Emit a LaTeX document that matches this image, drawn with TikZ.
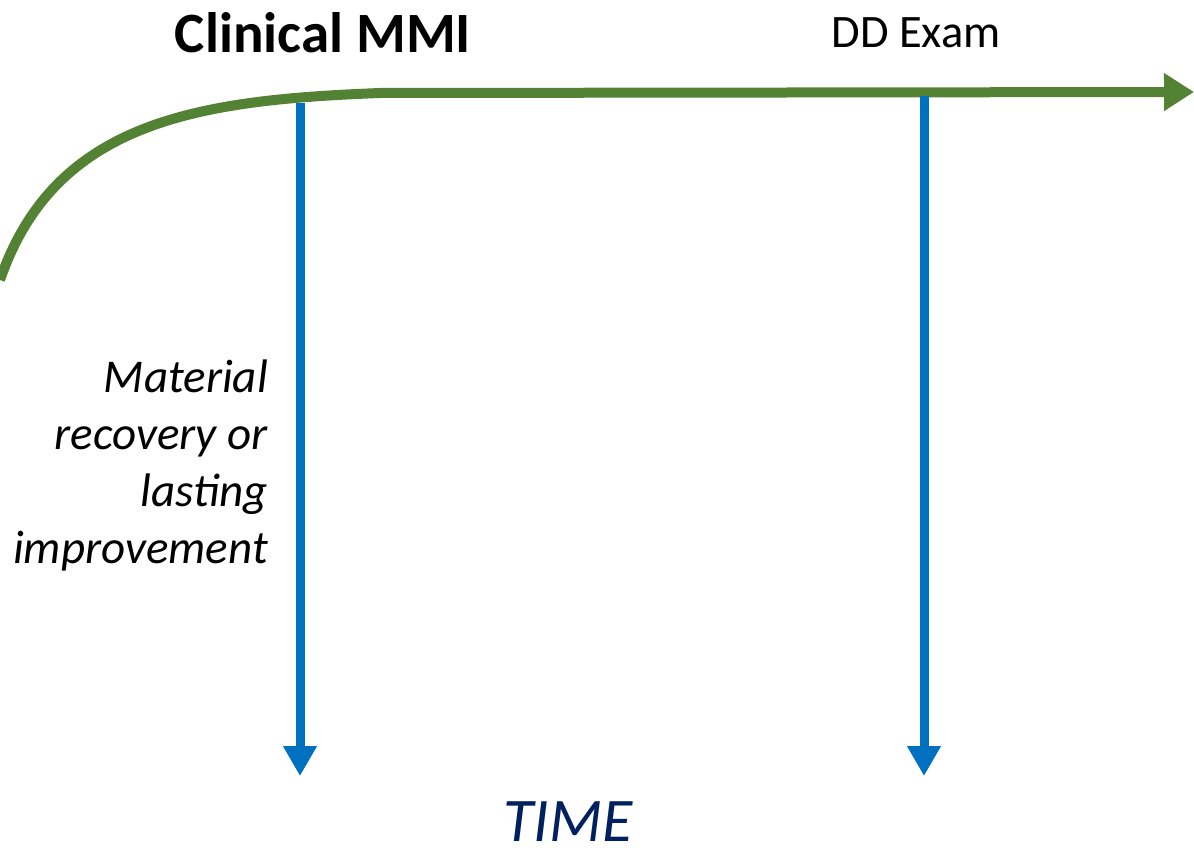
\documentclass[tikz,border=0pt]{standalone}
\usepackage{fontspec}
\setmainfont{Carlito}
\usetikzlibrary{arrows.meta}
\definecolor{curvegreen}{HTML}{548235}
\definecolor{markblue}{HTML}{0070C0}
\definecolor{timenavy}{HTML}{002060}
\tikzstyle{trend} = [draw=curvegreen, line width=10pt, -{Triangle[width=36pt,length=30pt]}]
\tikzstyle{marker} = [draw=markblue, line width=9pt, -{Triangle[width=32pt,length=30pt]}]
\tikzstyle{heading} = [font=\fontsize{57}{68}\selectfont\bfseries, inner sep=0pt]
\tikzstyle{event} = [font=\fontsize{46.5}{56}\selectfont, inner sep=0pt]
\tikzstyle{note} = [font=\fontsize{47}{57}\selectfont\itshape, align=right, inner sep=0pt]

\begin{document}
\begin{tikzpicture}[x=1pt, y=-1pt]
\useasboundingbox (0,0) rectangle (1194,859);
% curve
\coordinate (start) at (0,280);
\coordinate (knee) at (380,93);
\coordinate (tip) at (1194,92);
\draw[trend] (start) .. controls (55,120) and (200,100) .. (knee) -- (tip);
% markers
\coordinate (mmitop) at (300,103);
\coordinate (mmibot) at (300,776);
\coordinate (ddtop) at (924,96);
\coordinate (ddbot) at (924,776);
\draw[marker] (mmitop) -- (mmibot);
\draw[marker] (ddtop) -- (ddbot);
% labels
\node[heading] (mmi) at (323,33) {Clinical MMI};
\node[event] (dd) at (916,33) {DD Exam};
\node[note, anchor=east] (recovery) at (268,465) {Material\\recovery or\\lasting\\improvement};
\node[font=\fontsize{62}{74}\selectfont\itshape, text=timenavy, inner sep=0pt] (time) at (568,822) {TIME};
\end{tikzpicture}
\end{document}
